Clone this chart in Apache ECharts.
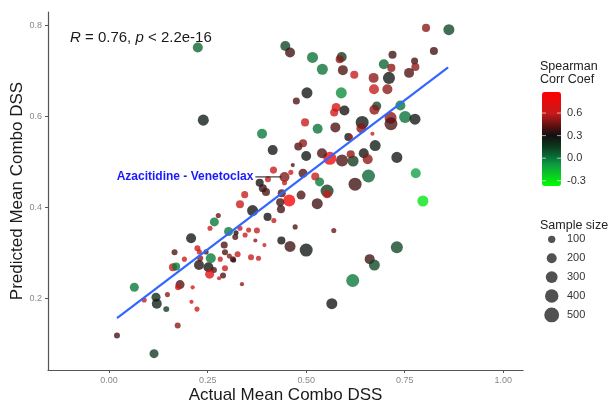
<!DOCTYPE html>
<html>
<head>
<meta charset="utf-8">
<script src="https://cdn.jsdelivr.net/npm/echarts@6/dist/echarts.min.js"></script>
<style>
  html, body { margin: 0; padding: 0; background: #fff; }
  #chart { width: 614px; height: 402px; }
</style>
</head>
<body>
<div id="chart"></div>
<script>
// ---------------- data ----------------
const actualDSS = [
  0.020,0.114,0.064,0.089,0.119,0.121,0.145,0.148,0.180,0.175,0.212,0.209,0.223,0.174,0.162,0.170,0.166,0.191,0.208,0.224,
  0.229,0.246,0.231,0.228,0.252,0.258,0.266,0.282,0.305,0.316,0.294,0.255,0.289,0.279,0.337,0.277,0.267,0.256,0.303,0.332,
  0.322,0.354,0.375,0.320,0.345,0.371,0.394,0.292,0.294,0.326,0.314,0.360,0.379,0.437,0.459,0.500,0.472,0.570,0.565,0.618,
  0.661,0.673,0.730,0.796,0.778,0.658,0.624,0.730,0.675,0.646,0.656,0.591,0.619,0.613,0.560,0.540,0.500,0.480,0.492,0.466,
  0.445,0.417,0.461,0.492,0.523,0.534,0.382,0.390,0.398,0.403,0.445,0.438,0.553,0.553,0.344,0.332,0.457,0.487,0.434,0.436,
  0.364,0.402,0.418,0.528,0.388,0.415,0.225,0.239,0.447,0.459,0.475,0.502,0.516,0.541,0.590,0.585,0.593,0.622,0.589,0.576,
  0.571,0.597,0.497,0.529,0.574,0.804,0.862,0.824,0.719,0.697,0.716,0.775,0.777,0.761,0.671,0.710,0.672,0.706,0.679,0.673,
  0.739,0.751,0.776,0.714,0.715,0.642,0.640,0.668,0.607,0.614
];
const predictedDSS = [
  0.118,0.078,0.224,0.196,0.202,0.188,0.176,0.208,0.230,0.224,0.224,0.192,0.176,0.140,0.268,0.270,0.301,0.286,0.332,0.310,
  0.302,0.302,0.288,0.273,0.268,0.288,0.262,0.286,0.293,0.284,0.266,0.253,0.250,0.244,0.231,0.382,0.368,0.354,0.347,0.354,
  0.344,0.350,0.349,0.335,0.339,0.327,0.317,0.317,0.301,0.297,0.286,0.290,0.288,0.327,0.314,0.306,0.357,0.349,0.188,0.239,
  0.286,0.273,0.312,0.414,0.475,0.469,0.451,0.510,0.536,0.519,0.506,0.503,0.502,0.517,0.508,0.519,0.513,0.534,0.541,0.493,
  0.467,0.482,0.477,0.475,0.468,0.456,0.454,0.442,0.434,0.462,0.454,0.431,0.436,0.429,0.428,0.407,0.415,0.427,0.411,0.396,
  0.393,0.379,0.371,0.408,0.562,0.526,0.752,0.592,0.755,0.741,0.634,0.652,0.730,0.704,0.731,0.726,0.702,0.692,0.652,0.620,
  0.609,0.613,0.587,0.573,0.576,0.795,0.791,0.744,0.736,0.715,0.707,0.722,0.709,0.696,0.685,0.685,0.660,0.660,0.623,0.615,
  0.624,0.599,0.594,0.597,0.584,0.587,0.574,0.562,0.555,0.555
];
const spearman = [
  0.40,0.15,0.00,0.60,0.22,0.25,0.15,0.50,0.40,0.60,0.65,0.65,0.65,0.50,0.60,0.00,0.40,0.60,0.28,0.60,
  0.65,0.40,0.50,0.33,0.30,0.00,0.40,0.60,0.50,0.30,0.60,0.70,0.40,0.60,0.50,0.45,0.00,0.60,0.00,0.60,
  0.30,0.60,0.60,0.40,0.60,0.50,0.60,0.40,0.40,0.60,0.40,0.60,0.60,0.30,0.38,0.28,0.40,0.45,0.28,0.00,
  0.38,0.12,0.12,-0.30,-0.10,0.05,0.38,0.28,0.27,0.30,0.50,0.40,0.15,0.50,0.80,0.40,0.28,0.40,0.50,0.40,
  0.48,0.60,0.65,0.40,0.60,0.00,0.30,0.35,0.40,0.60,0.60,0.40,0.15,0.60,0.60,0.60,0.85,0.40,0.38,0.38,
  0.30,0.30,0.60,0.38,0.00,0.28,0.05,0.27,0.12,0.38,0.40,0.28,0.02,0.02,0.15,0.50,0.40,0.60,-0.05,0.65,
  0.65,0.30,0.60,0.02,0.40,0.50,0.12,0.38,0.38,0.05,0.50,0.38,0.50,0.40,0.50,0.28,0.60,0.50,0.12,0.50,
  0.02,0.02,0.28,0.50,0.40,0.28,0.50,0.60,0.30,0.70
];
const sampleSize = [
  80,185,185,60,185,230,80,60,185,80,45,45,60,80,145,145,80,60,230,80,
  60,60,80,230,230,230,80,60,60,60,80,185,80,45,45,60,185,60,185,60,
  60,60,80,80,60,45,45,110,80,80,80,80,60,145,285,410,60,60,285,410,
  230,285,345,285,230,410,410,285,285,230,230,345,285,145,410,230,230,145,145,45,
  230,110,60,185,145,185,145,145,145,80,60,145,410,145,110,145,345,185,145,145,
  285,145,60,285,230,230,230,285,230,230,110,285,285,285,230,145,230,145,285,185,
  145,230,145,230,230,145,285,145,145,230,145,110,145,230,230,345,230,230,185,230,
  230,345,285,345,410,410,230,45,145,45
];
const regressionLine = [[0.02, 0.156], [0.86, 0.708]];
const labelledPair = 'Azacitidine - Venetoclax';
const labelLeader = [[0.371, 0.467], [0.437, 0.467]];
const statText = '{i|R} = 0.76, {i|p} < 2.2e-16';
const xTicks = [0, 0.25, 0.5, 0.75, 1.0];
const yTicks = [0.2, 0.4, 0.6, 0.8];
const corrTicks = [0.6, 0.3, 0.0, -0.3];
const sizeTicks = [100, 200, 300, 400, 500];

// ---------------- styling helpers ----------------
const FONT = 'Liberation Sans, Arial, sans-serif';
const corrMin = -0.37, corrMax = 0.88;
const sizeFn = s => 2 + 12.5 * Math.sqrt(Math.max(s - 30, 0) / 490);
const anchors = [
  [-0.37, '#00ff00'], [-0.1, '#10a040'], [0.0, '#07773a'], [0.15, '#0e3a1e'],
  [0.3, '#101010'], [0.4, '#4a1010'], [0.5, '#8a1515'], [0.6, '#c81a1a'], [0.88, '#ff0000']
];
function hexRgb(h) { return [1, 3, 5].map(i => parseInt(h.slice(i, i + 2), 16)); }
function colorAt(v) {
  for (let k = 0; k < anchors.length - 1; k++) {
    const [v0, c0] = anchors[k], [v1, c1] = anchors[k + 1];
    if (v <= v1 || k === anchors.length - 2) {
      const t = Math.min(1, Math.max(0, (v - v0) / (v1 - v0)));
      const a = hexRgb(c0), b = hexRgb(c1);
      const c = a.map((x, i) => Math.round(x + (b[i] - x) * t));
      return 'rgb(' + c.join(',') + ')';
    }
  }
}
const stops = Array.from({ length: 61 }, (_, k) => colorAt(corrMin + k * (corrMax - corrMin) / 60));

const points = actualDSS.map((x, i) => [x, predictedDSS[i], spearman[i], sampleSize[i]]);

// colour bar geometry
const barLeft = 542, barTop = 92, barW = 19, barH = 94;
const barY = v => barTop + (corrMax - v) / (corrMax - corrMin) * barH;

const graphics = [];
graphics.push({ type: 'text', left: 540, top: 60, style: { text: 'Spearman', fontSize: 12.5, fill: '#222', fontFamily: FONT } });
graphics.push({ type: 'text', left: 540, top: 73.5, style: { text: 'Corr Coef', fontSize: 12.5, fill: '#222', fontFamily: FONT } });
corrTicks.forEach(v => {
  const y = barY(v);
  graphics.push({ type: 'text', x: 567, y: y, style: { text: v.toFixed(1), fontSize: 11, fill: '#333', verticalAlign: 'middle', fontFamily: FONT }, z: 10 });
  graphics.push({ type: 'line', shape: { x1: barLeft, y1: y, x2: barLeft + 4, y2: y }, style: { stroke: '#fff', lineWidth: 0.8, opacity: 0.8 }, z: 10 });
  graphics.push({ type: 'line', shape: { x1: barLeft + barW - 4, y1: y, x2: barLeft + barW, y2: y }, style: { stroke: '#fff', lineWidth: 0.8, opacity: 0.8 }, z: 10 });
});
graphics.push({ type: 'text', left: 540, top: 219, style: { text: 'Sample size', fontSize: 12.5, fill: '#222', fontFamily: FONT } });
sizeTicks.forEach((s, k) => {
  const y = 239.3 + k * 18.9;
  graphics.push({ type: 'circle', shape: { cx: 551.7, cy: y, r: sizeFn(s) / 2 + 0.3 }, style: { fill: '#333', opacity: 0.85 } });
  graphics.push({ type: 'text', x: 567, y: y, style: { text: String(s), fontSize: 11, fill: '#333', verticalAlign: 'middle', fontFamily: FONT } });
});

const chart = echarts.init(document.getElementById('chart'), null, { renderer: 'canvas' });
chart.setOption({
  animation: false,
  backgroundColor: '#fff',
  textStyle: { fontFamily: FONT },
  title: {
    text: statText, left: 70, top: 30, padding: 0,
    textStyle: {
      fontSize: 15, fontWeight: 'normal', color: '#1a1a1a', fontFamily: FONT,
      rich: { i: { fontStyle: 'italic', fontSize: 15, color: '#1a1a1a', fontFamily: FONT } }
    }
  },
  grid: { left: 48, right: 91, top: 12, bottom: 32, containLabel: false, outerBoundsMode: 'none' },
  xAxis: {
    type: 'value', min: -0.155, max: 1.05,
    name: 'Actual Mean Combo DSS', nameLocation: 'middle', nameGap: 17, nameMoveOverlap: false,
    nameTextStyle: { fontSize: 17, color: '#1a1a1a', verticalAlign: 'top' },
    splitLine: { show: false },
    axisLine: { show: true, onZero: false, lineStyle: { color: '#555', width: 1.2 } },
    axisTick: { show: true, length: 3, lineStyle: { color: '#555' }, customValues: xTicks },
    axisLabel: { fontSize: 9, color: '#888', margin: 6, customValues: xTicks, formatter: v => v.toFixed(2) }
  },
  yAxis: {
    type: 'value', min: 0.042, max: 0.83,
    name: 'Predicted Mean Combo DSS', nameLocation: 'middle', nameGap: 22, nameMoveOverlap: false,
    nameTextStyle: { fontSize: 17, color: '#1a1a1a' },
    splitLine: { show: false },
    axisLine: { show: true, onZero: false, lineStyle: { color: '#555', width: 1.2 } },
    axisTick: { show: true, length: 3, lineStyle: { color: '#555' }, customValues: yTicks },
    axisLabel: { fontSize: 9, color: '#888', margin: 6, customValues: yTicks, formatter: v => v.toFixed(1) }
  },
  visualMap: {
    type: 'continuous', seriesIndex: 0, dimension: 2,
    min: corrMin, max: corrMax, calculable: false, show: true,
    left: barLeft, top: barTop, itemWidth: barW, itemHeight: barH, padding: 0,
    text: null, hoverLink: false,
    inRange: { color: stops }
  },
  series: [
    {
      type: 'scatter', data: points,
      symbolSize: v => sizeFn(v[3]),
      itemStyle: { opacity: 0.78 },
      z: 2
    },
    {
      type: 'line', data: regressionLine, symbol: 'none',
      lineStyle: { color: '#3366ff', width: 2.2 }, z: 3, silent: true
    },
    {
      type: 'line', data: labelLeader, symbol: 'none',
      lineStyle: { color: '#111', width: 1 }, z: 3, silent: true
    },
    {
      type: 'scatter', data: [labelLeader[0]], symbolSize: 2,
      itemStyle: { color: 'rgba(0,0,0,0)', opacity: 1 }, z: 4, silent: true,
      label: {
        show: true, position: 'left', distance: 1, formatter: labelledPair, opacity: 1,
        fontSize: 12, fontWeight: 'bold', color: '#1a1aff', fontFamily: FONT
      }
    }
  ],
  graphic: graphics
});
</script>
</body>
</html>
